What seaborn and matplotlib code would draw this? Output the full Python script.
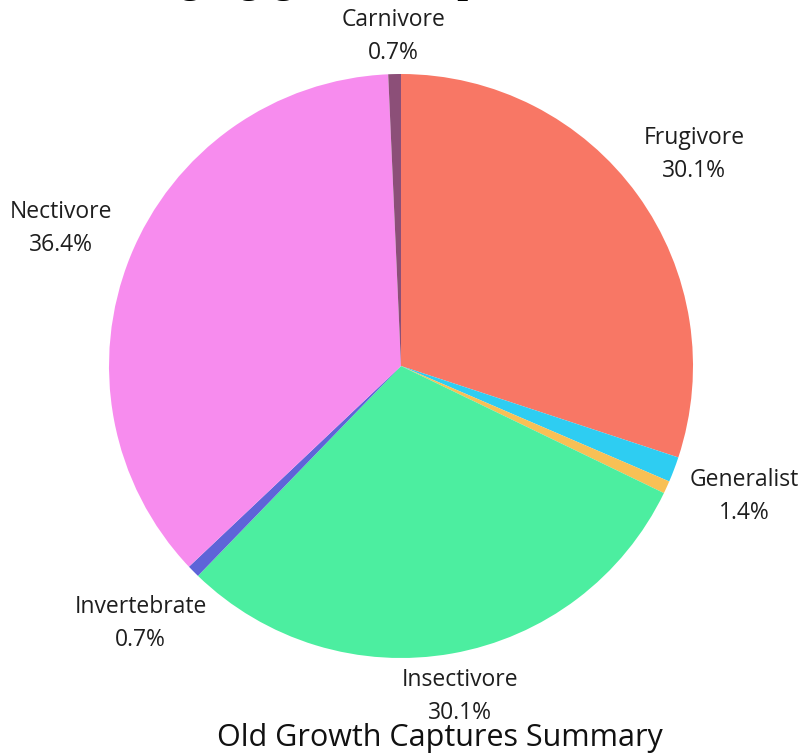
import numpy as np
import matplotlib
matplotlib.use("Agg")
import matplotlib.pyplot as plt
import seaborn as sns

categories = ["Frugivore", "Generalist", "Granivore", "Insectivore", "Invertebrate", "Nectivore", "Carnivore"]
counts = [43, 2, 1, 43, 1, 52, 1]
show_label = [True, True, False, True, True, True, True]
colors = ["#F87765", "#2ECDF2", "#F8C055", "#4CEEA0", "#5E64D8", "#F78CEE", "#8C4F78"]
title = "Old Growth Captures Summary"
top_text = "Foraging guild composition"

sns.set_theme(style="white")
plt.rcParams['font.family'] = ['Open Sans', 'DejaVu Sans']

W, H = 804, 755
fig = plt.figure(figsize=(W / 100, H / 100), dpi=100)
ax = fig.add_axes([0, 0, 1, 1])
cx, cy, R = 401, 366, 292

wedges, _ = ax.pie(counts, colors=colors, startangle=90, counterclock=False,
                   radius=1.0, wedgeprops=dict(linewidth=0), normalize=True)
ax.set_aspect('auto')
ax.set_xlim(-cx / R, (W - cx) / R)
ax.set_ylim(-(H - cy) / R, cy / R)
ax.set_axis_off()

total = sum(counts)
for w, name, c, show in zip(wedges, categories, counts, show_label):
    if not show:
        continue
    mid = np.deg2rad((w.theta1 + w.theta2) / 2)
    d = 1.125 + 0.14 * abs(np.cos(mid)) + (0.03 if len(name) > 11 else 0.0)
    pct = 100 * c / total
    ax.text(d * np.cos(mid), d * np.sin(mid), f"{name}\n{pct:.1f}%",
            ha='center', va='center', fontsize=16.5, color='#1e1e1e', linespacing=1.5)

fig.text(440 / W, 1 - 738 / H, title, ha='center', va='center', fontsize=22, color='#111111')
fig.text(95 / W, 1 + 9 / H, top_text, ha='left', va='baseline', fontsize=33,
         family=['Liberation Serif'], color='black')

fig.savefig("out.png", dpi=100)
